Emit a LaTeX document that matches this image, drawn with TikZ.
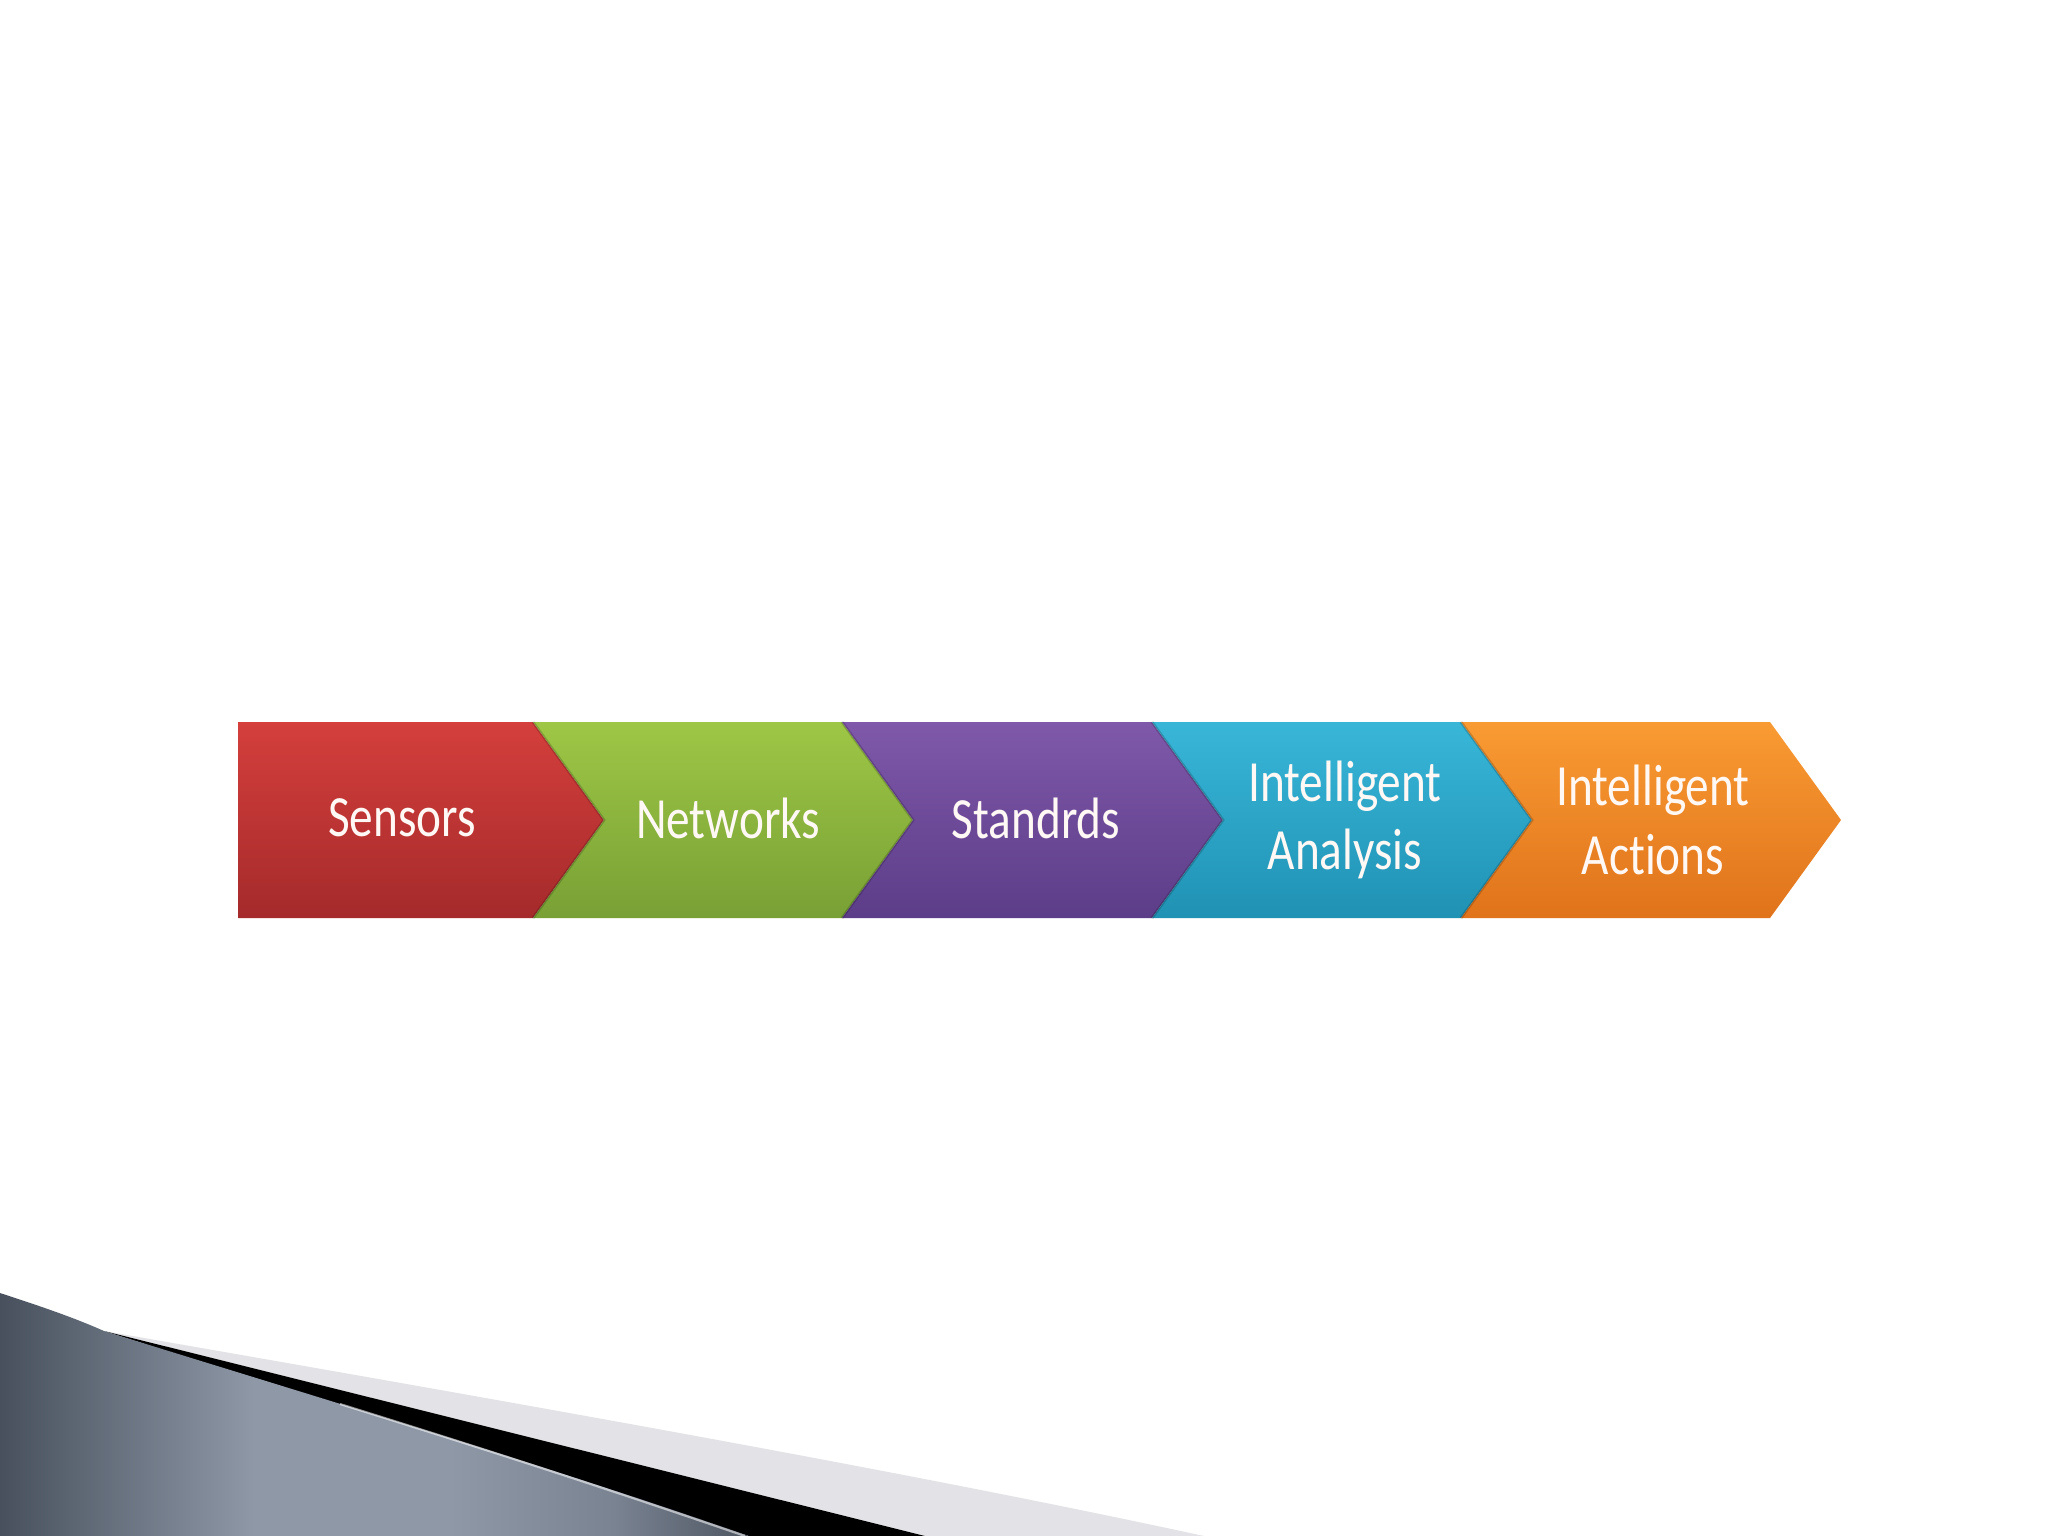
\documentclass[tikz,border=0pt]{standalone}
\usepackage{fontspec}
\newfontfamily\lblfont[FakeStretch=0.81, Ligatures={NoCommon,NoRequired}, RawFeature=-liga]{Carlito}
\definecolor{redT}{HTML}{D43F3C}\definecolor{redB}{HTML}{A52A2B}
\definecolor{grnT}{HTML}{9EC746}\definecolor{grnB}{HTML}{78A035}
\definecolor{purT}{HTML}{7F58AA}\definecolor{purB}{HTML}{5C3D88}
\definecolor{bluT}{HTML}{38B6D8}\definecolor{bluB}{HTML}{2092B4}
\definecolor{oraT}{HTML}{F99B33}\definecolor{oraB}{HTML}{E0731B}
\definecolor{lgray}{HTML}{E3E3E7}
\definecolor{txtc}{HTML}{FFF8F4}
\definecolor{slateA}{HTML}{47505C}
\definecolor{slateB}{HTML}{8F98A7}
\definecolor{slateD}{HTML}{7A8392}
\definecolor{slateC}{HTML}{4E5662}
\pgfdeclarehorizontalshading{slateshade}{100bp}{
  color(0bp)=(slateA); color(25bp)=(slateA); color(42bp)=(slateB);
  color(55bp)=(slateB); color(66bp)=(slateD); color(75bp)=(slateC); color(100bp)=(slateC)}
\begin{document}
\begin{tikzpicture}[x=0.01cm,y=-0.01cm,
  lbl/.style={text=txtc, align=center, inner sep=0pt,
    font=\lblfont\fontsize{16.6pt}{19.4pt}\selectfont},
  chev/.style 2 args={top color=#1, bottom color=#2},
  sepline/.style={draw=black, draw opacity=0.18, line width=0.8pt}]
\fill[white] (0,0) rectangle (2048,1536);
\useasboundingbox (0,0) rectangle (2048,1536);
% bottom-left swoosh
\fill[lgray] (104,1331) .. controls (500,1400) and (900,1470) .. (1204,1536) -- (925,1536) -- cycle;
\fill[black] (104,1331) -- (925,1536) -- (749,1536) -- cycle;
\shade[shading=slateshade, shading angle=0]
  (0,1293) .. controls (40,1306) and (75,1318) .. (104,1331)
  .. controls (320,1398) and (560,1470) .. (749,1536) -- (0,1536) -- cycle;
\draw[white, opacity=0.55, line width=0.6pt] (340,1404) .. controls (520,1460) and (640,1500) .. (745,1536);
% chevrons
\path[chev={redT}{redB}] (238,722) -- (533,722) -- (604,820) -- (533,918) -- (238,918) -- cycle;
\path[chev={grnT}{grnB}] (533,722) -- (842,722) -- (913,820) -- (842,918) -- (533,918) -- (604,820) -- cycle;
\path[chev={purT}{purB}] (842,722) -- (1152,722) -- (1223,820) -- (1152,918) -- (842,918) -- (913,820) -- cycle;
\path[chev={bluT}{bluB}] (1152,722) -- (1461,722) -- (1532,820) -- (1461,918) -- (1152,918) -- (1223,820) -- cycle;
\path[chev={oraT}{oraB}] (1461,722) -- (1770,722) -- (1841,820) -- (1770,918) -- (1461,918) -- (1532,820) -- cycle;
\draw[sepline] (533,722) -- (604,820) -- (533,918);
\draw[sepline] (842,722) -- (913,820) -- (842,918);
\draw[sepline] (1152,722) -- (1223,820) -- (1152,918);
\draw[sepline] (1461,722) -- (1532,820) -- (1461,918);
% labels
\node[lbl] (sensors) at (402,818) {Sensors};
\node[lbl] (networks) at (728,818) {Networks};
\node[lbl] (standrds) at (1036,818) {Standrds};
\node[lbl] (analysis) at (1345,820) {Intelligent\\Analysis};
\node[lbl] (actions) at (1653,820) {Intelligent\\Actions};
\end{tikzpicture}
\end{document}
